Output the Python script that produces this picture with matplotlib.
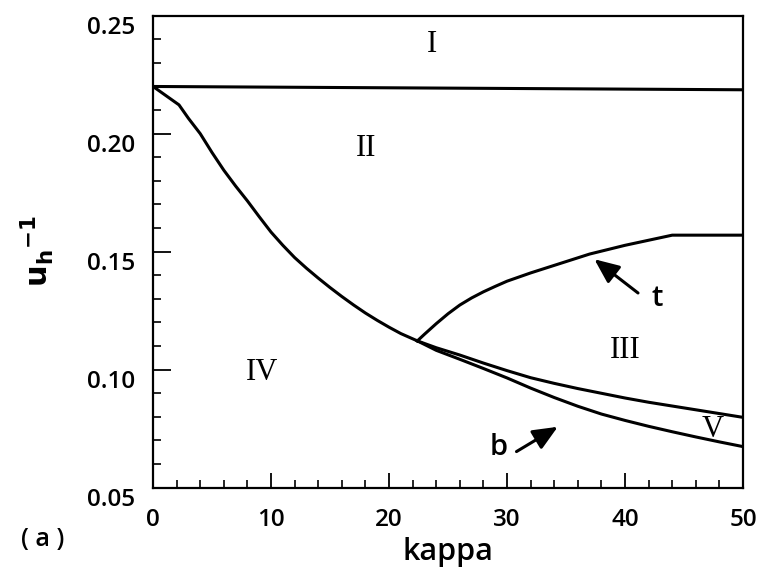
import matplotlib
matplotlib.use('Agg')
import matplotlib.pyplot as plt
from matplotlib.ticker import MultipleLocator

# phase boundaries
kappa_top = [0, 50]
u_top = [0.2200, 0.2186]

kappa_iv = [0, 2.2, 3, 4, 5, 6, 7, 8, 9, 10, 11, 12, 13, 14, 15, 16, 17, 18, 19, 20, 21, 22.4]
u_iv = [0.2200, 0.2122, 0.2065, 0.2000, 0.1920, 0.1845, 0.1778, 0.1715, 0.1648, 0.1583, 0.1527, 0.1475,
        0.1430, 0.1388, 0.1348, 0.1310, 0.1274, 0.1240, 0.1209, 0.1180, 0.1153, 0.1122]

kappa_t = [22.4, 23, 24, 25, 26, 27, 28, 29, 30, 32, 34, 37, 40, 44, 50]
u_t = [0.1122, 0.1150, 0.1195, 0.1237, 0.1274, 0.1304, 0.1330, 0.1353, 0.1375, 0.1410, 0.1442, 0.1490,
       0.1527, 0.1570, 0.1570]

kappa_br = [22.4, 24, 26, 28, 30, 32, 34, 36, 38, 40, 42, 44, 46, 48, 50]
u_upper = [0.1122, 0.1093, 0.1062, 0.1028, 0.0996, 0.0966, 0.0942, 0.0920, 0.0900, 0.0880, 0.0862,
           0.0846, 0.0830, 0.0814, 0.0798]
u_lower = [0.1122, 0.1082, 0.1044, 0.1005, 0.0965, 0.0922, 0.0882, 0.0845, 0.0812, 0.0785, 0.0760,
           0.0737, 0.0715, 0.0694, 0.0674]

region_names = ['I', 'II', 'III', 'IV', 'V']
region_kappa = [23.6, 18.1, 40.0, 9.2, 47.4]
region_u = [0.2376, 0.1939, 0.1080, 0.0986, 0.0745]

x_ticks = [0, 10, 20, 30, 40, 50]
y_ticks = [0.05, 0.10, 0.15, 0.20, 0.25]

SANS = ['Open Sans', 'DejaVu Sans']
WT = 600

fig = plt.figure(figsize=(7.61, 5.72), dpi=100)
ax = fig.add_axes([0.2011, 0.1474, 0.7753, 0.8252])

lw = 2.2
for xs, ys in [(kappa_top, u_top), (kappa_iv, u_iv), (kappa_t, u_t),
               (kappa_br, u_upper), (kappa_br, u_lower)]:
    ax.plot(xs, ys, color='black', lw=lw, solid_joinstyle='round')

for name, kx, uy in zip(region_names, region_kappa, region_u):
    ax.text(kx, uy, name, family='Liberation Serif', fontsize=22,
            ha='center', va='center')

arrow = dict(arrowstyle='-|>,head_length=1.5,head_width=0.65', color='black',
             lw=2.2, shrinkA=0, shrinkB=0)
ax.annotate('', xy=(37.4, 0.1468), xytext=(41.1, 0.1325), arrowprops=arrow)
ax.text(42.7, 0.1300, 't', fontsize=21, family=SANS, fontweight=WT, ha='center', va='center')
ax.annotate('', xy=(34.3, 0.0758), xytext=(30.8, 0.0653), arrowprops=arrow)
ax.text(29.3, 0.0672, 'b', fontsize=21, family=SANS, fontweight=WT, ha='center', va='center')

ax.set_xlim(0, 50)
ax.set_ylim(0.05, 0.25)
ax.set_xticks(x_ticks)
ax.set_yticks(y_ticks)
ax.set_yticklabels([f'{v:.2f}' for v in y_ticks])
ax.xaxis.set_minor_locator(MultipleLocator(2))
ax.yaxis.set_minor_locator(MultipleLocator(0.01))
ax.tick_params(which='both', direction='in', top=False, right=False, labelsize=17.5)
ax.tick_params(axis='x', which='major', length=11, width=1.3, pad=14.5)
ax.tick_params(axis='y', which='major', length=13, width=1.3, pad=13)
ax.tick_params(which='minor', length=5.5, width=1.2)
for lab in ax.get_yticklabels() + ax.get_xticklabels():
    lab.set_family(SANS)
    lab.set_fontweight(WT)
for lab in ax.get_yticklabels():
    lab.set_verticalalignment('top')

for sp in ax.spines.values():
    sp.set_linewidth(1.6)

ax.set_xlabel('kappa', fontsize=22, family=SANS, fontweight=WT, labelpad=4)
ax.set_ylabel(r'$\mathbf{u}_{\mathbf{h}}{}^{\mathbf{-1}}$', fontsize=22, labelpad=22)
fig.text(43 / 761, 1 - 540 / 572, '( a )', fontsize=18, family=SANS, fontweight=WT,
         ha='center', va='center')

fig.savefig('out.png', dpi=100)
